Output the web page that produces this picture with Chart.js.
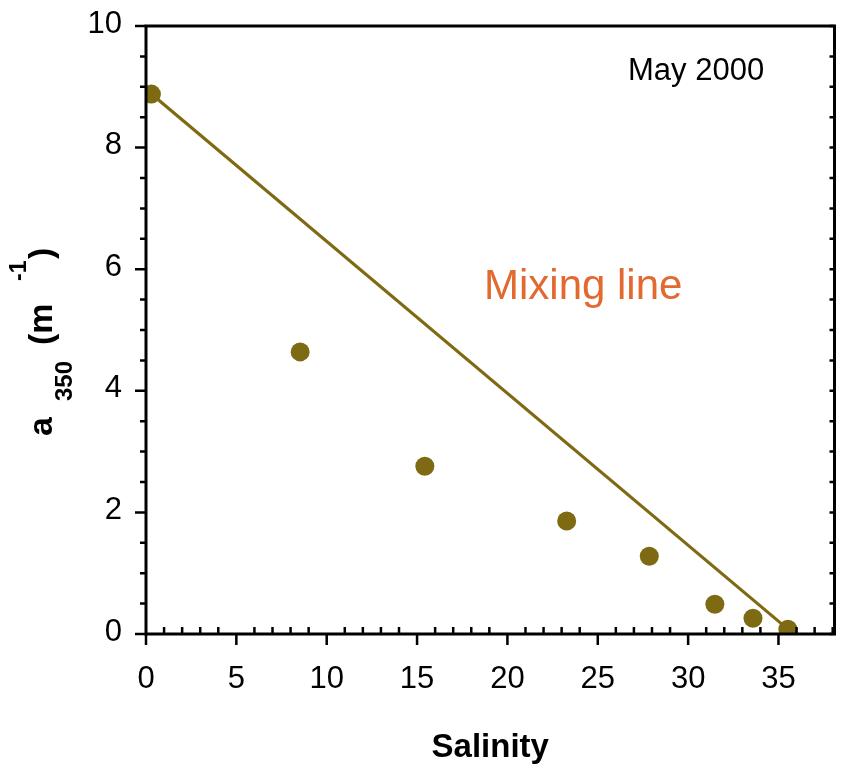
<!DOCTYPE html>
<html>
<head>
<meta charset="utf-8">
<script src="https://cdn.jsdelivr.net/npm/chart.js@4.4.1/dist/chart.umd.min.js"></script>
<style>
  html, body { margin: 0; padding: 0; background: #fff; }
  #wrap { width: 844px; height: 767px; }
</style>
</head>
<body>
<div id="wrap"><canvas id="chart" width="844" height="767"></canvas></div>
<script>
// measured samples, May 2000
const salinity = [0.3, 8.53, 15.43, 23.28, 27.85, 31.48, 33.59, 35.52];
const a350 = [8.88, 4.64, 2.76, 1.86, 1.28, 0.49, 0.26, 0.08];

// mixing line end members
const mixX = [0.3, 35.52];
const mixY = [8.88, 0.08];

const xTicks = [0, 5, 10, 15, 20, 25, 30, 35];
const yTicks = [0, 2, 4, 6, 8, 10];

const olive = '#7f6a14';
const FONT = '"Liberation Sans", Arial, sans-serif';

const axesPlugin = {
    id: 'axesPlugin',
    afterDraw(chart) {
        const ctx = chart.ctx;
        const x = chart.scales.x;
        const y = chart.scales.y;
        const a = chart.chartArea;
        ctx.save();
        ctx.strokeStyle = '#000';
        ctx.lineWidth = 3;
        ctx.lineCap = 'butt';

        // frame
        ctx.beginPath();
        ctx.moveTo(a.left, a.top); ctx.lineTo(a.right, a.top);
        ctx.moveTo(a.right, a.top - 1.5); ctx.lineTo(a.right, a.bottom + 1.5);
        ctx.moveTo(a.left, a.top - 1.5); ctx.lineTo(a.left, a.bottom + 1.5);
        ctx.moveTo(a.left, a.bottom); ctx.lineTo(a.right, a.bottom);
        ctx.stroke();

        ctx.lineWidth = 2.5;
        ctx.beginPath();
        // x ticks: major outward, minor inward
        for (let v = 0; v <= 38; v++) {
            const px = x.getPixelForValue(v);
            if (v % 5 === 0) {
                ctx.moveTo(px, a.bottom); ctx.lineTo(px, a.bottom + 11);
            } else {
                ctx.moveTo(px, a.bottom); ctx.lineTo(px, a.bottom - 7);
            }
        }
        // y ticks left outward, right inward
        for (let i = 0; i <= 20; i++) {
            const v = i / 2;
            const py = y.getPixelForValue(v);
            const len = (i % 4 === 0) ? 11 : 6;
            ctx.moveTo(a.left, py); ctx.lineTo(a.left - len, py);
            ctx.moveTo(a.right, py); ctx.lineTo(a.right - 5, py);
        }
        ctx.stroke();

        // annotations
        ctx.fillStyle = '#000';
        ctx.textBaseline = 'alphabetic';
        ctx.textAlign = 'left';
        ctx.font = '31px ' + FONT;
        ctx.fillText('May 2000', 628, 80);

        ctx.fillStyle = '#e2692f';
        ctx.font = '42px ' + FONT;
        ctx.fillText('Mixing line', 484, 299);

        // x title
        ctx.fillStyle = '#000';
        ctx.textAlign = 'center';
        ctx.font = 'bold 33px ' + FONT;
        ctx.fillText('Salinity', (a.left + a.right) / 2, 757);

        // y title, rotated, with sub/superscripts
        ctx.translate(52, 436);
        ctx.rotate(-Math.PI / 2);
        ctx.textAlign = 'left';
        ctx.font = 'bold 34px ' + FONT;
        ctx.fillText('a', 0, 0);
        ctx.font = 'bold 24px ' + FONT;
        ctx.fillText('350', 35, 20);
        ctx.font = 'bold 34px ' + FONT;
        ctx.fillText('(m', 91, 0);
        ctx.font = 'bold 23px ' + FONT;
        ctx.fillText('-1', 155, -26);
        ctx.font = 'bold 34px ' + FONT;
        ctx.fillText(')', 177, 0);
        ctx.restore();
    }
};

new Chart(document.getElementById('chart'), {
    data: {
        datasets: [
            {
                type: 'line',
                data: mixX.map((v, i) => ({ x: v, y: mixY[i] })),
                borderColor: olive,
                borderWidth: 3.2,
                pointRadius: 0,
                fill: false,
                order: 2
            },
            {
                type: 'scatter',
                data: salinity.map((v, i) => ({ x: v, y: a350[i] })),
                backgroundColor: olive,
                borderColor: olive,
                borderWidth: 0,
                pointRadius: 9.5,
                order: 1
            }
        ]
    },
    plugins: [axesPlugin],
    options: {
        responsive: false,
        animation: false,
        layout: { padding: { left: 0, right: 7, top: 26, bottom: 0 } },
        plugins: { legend: { display: false }, tooltip: { enabled: false } },
        scales: {
            x: {
                type: 'linear',
                min: 0,
                max: 38.1,
                afterBuildTicks: s => { s.ticks = xTicks.map(v => ({ value: v })); },
                afterFit: s => { s.height = 133; s.paddingLeft = 0; s.paddingRight = 0; },
                grid: { display: false, drawTicks: false },
                border: { display: false },
                ticks: {
                    color: '#000',
                    font: { family: FONT, size: 31 },
                    padding: 27,
                    maxRotation: 0,
                    autoSkip: false
                }
            },
            y: {
                type: 'linear',
                min: 0,
                max: 10,
                afterBuildTicks: s => { s.ticks = yTicks.map(v => ({ value: v })); },
                afterFit: s => { s.width = 146; s.paddingTop = 0; s.paddingBottom = 0; },
                grid: { display: false, drawTicks: false },
                border: { display: false },
                ticks: {
                    color: '#000',
                    font: { family: FONT, size: 31 },
                    padding: 24,
                    labelOffset: -2,
                    autoSkip: false
                }
            }
        }
    }
});
</script>
</body>
</html>
